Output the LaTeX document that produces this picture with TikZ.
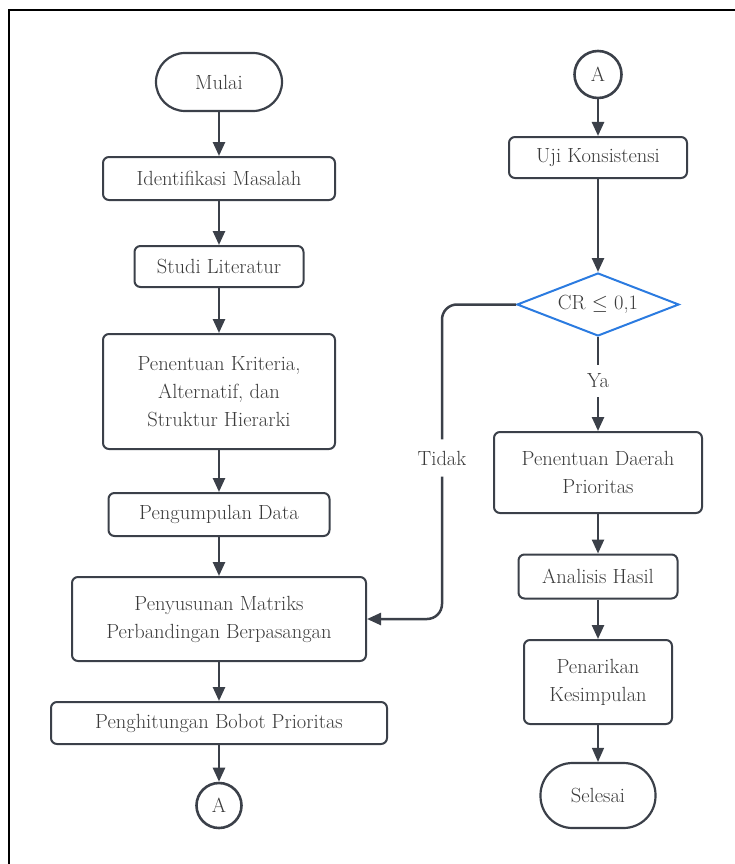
\documentclass[tikz,border=0pt]{standalone}
\usepackage{xcolor}
\usepackage{tikz}
\usetikzlibrary{positioning,shapes.geometric,arrows.meta}
\definecolor{garis}{HTML}{3B4049}
\definecolor{teks}{HTML}{3A3A3A}
\definecolor{biru}{HTML}{2B7BE0}
\tikzset{
  proses/.style={draw=garis, line width=2pt, rounded corners=6pt, align=center,
                 text=teks, inner sep=0pt},
  terminal/.style={draw=garis, line width=2.2pt, rounded corners=29pt, align=center,
                 text=teks, inner sep=0pt},
  konektor/.style={circle, draw=garis, line width=2.6pt, text=teks, inner sep=0pt,
                 minimum size=45pt},
  keputusan/.style={diamond, aspect=2.6, draw=biru, line width=2pt, text=teks, inner sep=0pt,
                 minimum width=162pt, minimum height=63pt},
  label/.style={text=teks, inner sep=0pt},
  garisan/.style={draw=garis, line width=2.5pt},
  panah/.style={garisan, -{Triangle[length=14pt,width=12pt]}}
}
\begin{document}
\begin{tikzpicture}[x=1pt,y=-1pt,font=\fontsize{20.5}{28}\selectfont]
    \useasboundingbox (0,0) rectangle (734,864);
    % Bingkai luar
    \draw[line width=2.6pt] (9,880) -- (9,10) -- (760,10);
    % Kolom kiri
    \node[terminal, minimum width=126pt, minimum height=58pt] (mulai) at (219,82) {Mulai};
    \node[proses, minimum width=232pt, minimum height=43pt] (identifikasi) at (219,178.5) {Identifikasi Masalah};
    \node[proses, minimum width=169pt, minimum height=41pt] (studi) at (219,266.5) {Studi Literatur};
    \node[proses, minimum width=232pt, minimum height=115pt] (kriteria) at (219,391.5) {Penentuan Kriteria,\\Alternatif, dan\\Struktur Hierarki};
    \node[proses, minimum width=221pt, minimum height=43pt] (pengumpulan) at (219,514.5) {Pengumpulan Data};
    \node[proses, minimum width=294pt, minimum height=84pt] (matriks) at (219,619) {Penyusunan Matriks\\Perbandingan Berpasangan};
    \node[proses, minimum width=336pt, minimum height=42pt] (bobot) at (219,723) {Penghitungan Bobot Prioritas};
    \node[konektor] (akiri) at (219,805.5) {A};
    % Kolom kanan
    \node[konektor, minimum size=47pt] (akanan) at (598,74.5) {A};
    \node[proses, minimum width=178pt, minimum height=41pt] (uji) at (598,157.5) {Uji Konsistensi};
    \node[keputusan] (cr) at (598,304.5) {CR $\leq$ 0,1};
    \node[label, minimum height=32pt] (ya) at (598,381) {Ya};
    \node[proses, minimum width=208pt, minimum height=81pt] (daerah) at (598,472.5) {Penentuan Daerah\\Prioritas};
    \node[proses, minimum width=159pt, minimum height=44pt] (analisis) at (598,576.5) {Analisis Hasil};
    \node[proses, minimum width=148pt, minimum height=84pt] (kesimpulan) at (598,682) {Penarikan\\Kesimpulan};
    \node[terminal, minimum width=115pt, minimum height=65pt, rounded corners=32pt] (selesai) at (598,795.5) {Selesai};
    \node[label, minimum height=37pt, fill=white] (tidak) at (442,458) {Tidak};
    % Alur kiri
    \draw[panah] (mulai) -- (identifikasi);
    \draw[panah] (identifikasi) -- (studi);
    \draw[panah] (studi) -- (kriteria);
    \draw[panah] (kriteria) -- (pengumpulan);
    \draw[panah] (pengumpulan) -- (matriks);
    \draw[panah] (matriks) -- (bobot);
    \draw[panah] (bobot) -- (akiri);
    % Alur kanan
    \draw[panah] (akanan) -- (uji);
    \draw[panah] (uji) -- (cr);
    \draw[garisan] (cr) -- (ya);
    \draw[panah] (ya) -- (daerah);
    \draw[panah] (daerah) -- (analisis);
    \draw[panah] (analisis) -- (kesimpulan);
    \draw[panah, line width=1.3pt] (kesimpulan) -- (selesai);
    % Umpan balik Tidak
    \draw[garisan, rounded corners=15pt] (cr.west) -| (tidak.north);
    \draw[panah, rounded corners=15pt] (tidak.south) |- (matriks.east);
\end{tikzpicture}
\end{document}
